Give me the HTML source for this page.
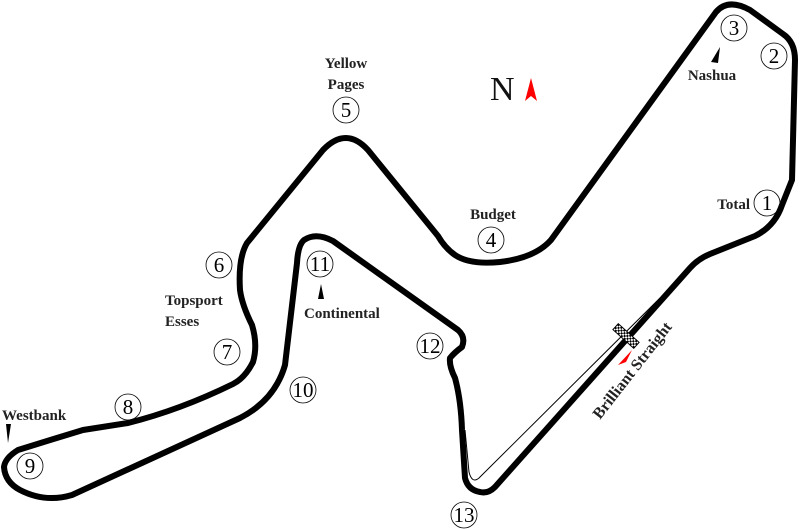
<!DOCTYPE html>
<html><head><meta charset="utf-8"><style>
html,body{margin:0;padding:0;background:#fff;}
svg{display:block}
.l{font-family:"Liberation Serif",serif;font-weight:bold;font-size:15px;fill:#222}
.n{font-family:"Liberation Serif",serif;font-size:21px;fill:#000}
</style></head><body>
<svg width="800" height="529" viewBox="0 0 800 529" xmlns="http://www.w3.org/2000/svg">
<path d="M660,298 L479,478 Q472,484 469,472 L465,430" fill="none" stroke="#000" stroke-width="1"/>
<path d="M480,492 Q488,494 495,487 L690,268 Q698,259 710,254 L755,236 Q775,226 782,205 L792,180 L795,60 Q795,42 783,34 L750,10 Q728,-2 716,12 L551,240 Q535,258 500,262 Q470,265 455,255 Q445,248 438,236 L368,150 Q346,126 323,150 L247,243 Q238,258 240,290 Q242,305 252,325 Q258,345 253,362 Q245,378 233,384 Q180,410 128,423 L83,430 Q50,440 18,450 Q5,458 4,467 Q5,482 20,490 Q45,503 72,495 L240,418 Q275,400 285,365 L297,263 Q298,245 304,240 Q316,232 333,241 L458,330 Q466,337 462,347 Q455,352 450,358 Q449,366 455,378 Q461,400 462,430 L465,478 Q468,490 480,492 Z" fill="none" stroke="#000" stroke-width="6" stroke-linejoin="round"/>
<g transform="translate(626,336) rotate(42)">
<rect x="-14" y="-4" width="28" height="8" fill="#fff" stroke="#000" stroke-width="1"/>
<g fill="#000">
<rect x="-14" y="-4" width="2" height="2"/><rect x="-10" y="-4" width="2" height="2"/><rect x="-6" y="-4" width="2" height="2"/><rect x="-2" y="-4" width="2" height="2"/><rect x="2" y="-4" width="2" height="2"/><rect x="6" y="-4" width="2" height="2"/><rect x="10" y="-4" width="2" height="2"/>
<rect x="-12" y="-2" width="2" height="2"/><rect x="-8" y="-2" width="2" height="2"/><rect x="-4" y="-2" width="2" height="2"/><rect x="0" y="-2" width="2" height="2"/><rect x="4" y="-2" width="2" height="2"/><rect x="8" y="-2" width="2" height="2"/><rect x="12" y="-2" width="2" height="2"/>
<rect x="-14" y="0" width="2" height="2"/><rect x="-10" y="0" width="2" height="2"/><rect x="-6" y="0" width="2" height="2"/><rect x="-2" y="0" width="2" height="2"/><rect x="2" y="0" width="2" height="2"/><rect x="6" y="0" width="2" height="2"/><rect x="10" y="0" width="2" height="2"/>
<rect x="-12" y="2" width="2" height="2"/><rect x="-8" y="2" width="2" height="2"/><rect x="-4" y="2" width="2" height="2"/><rect x="0" y="2" width="2" height="2"/><rect x="4" y="2" width="2" height="2"/><rect x="8" y="2" width="2" height="2"/><rect x="12" y="2" width="2" height="2"/>
</g></g>
<path d="M618,365 L632,350 L626,362 Z" fill="red"/>
<path d="M531,78 L537,101 L531,96 L525,101 Z" fill="red"/>
<text x="490" y="100" font-family="Liberation Serif,serif" font-size="34" fill="#111">N</text>
<path d="M711,62 L720,47 L718,63 Z" fill="#000"/>
<path d="M321,284 L324,299 L318,299 Z" fill="#000"/>
<path d="M6,424 L11,424 L8,443 Z" fill="#000"/>
<g fill="none" stroke="#000" stroke-width="0.8">
<circle cx="767" cy="203" r="13"/><circle cx="774" cy="56" r="13"/><circle cx="734" cy="28" r="13"/>
<circle cx="491" cy="240" r="13"/><circle cx="346" cy="110" r="13"/><circle cx="219" cy="265" r="13"/>
<circle cx="227" cy="352" r="13"/><circle cx="128" cy="407" r="13"/><circle cx="30" cy="466" r="13"/>
<circle cx="303" cy="390" r="13"/><circle cx="320" cy="264" r="13"/><circle cx="430" cy="346" r="13"/>
<circle cx="464" cy="515" r="13"/>
</g>
<g class="n" text-anchor="middle">
<text x="767" y="210">1</text><text x="774" y="63">2</text><text x="734" y="35">3</text>
<text x="491" y="247">4</text><text x="346" y="117">5</text><text x="219" y="272">6</text>
<text x="227" y="359">7</text><text x="128" y="414">8</text><text x="30" y="473">9</text>
<text x="303" y="397">10</text><text x="320" y="271">11</text><text x="430" y="353">12</text>
<text x="464" y="522">13</text>
</g>
<g class="l">
<text x="750" y="209" text-anchor="end">Total</text>
<text x="712" y="80" text-anchor="middle">Nashua</text>
<text x="493" y="219" text-anchor="middle">Budget</text>
<text x="346" y="68" text-anchor="middle">Yellow</text>
<text x="346" y="89" text-anchor="middle">Pages</text>
<text x="165" y="305">Topsport</text>
<text x="165" y="326">Esses</text>
<text x="2" y="420">Westbank</text>
<text x="304" y="318">Continental</text>
<text transform="translate(600,420) rotate(-52)" font-size="16">Brilliant Straight</text>
</g>
</svg>
</body></html>
